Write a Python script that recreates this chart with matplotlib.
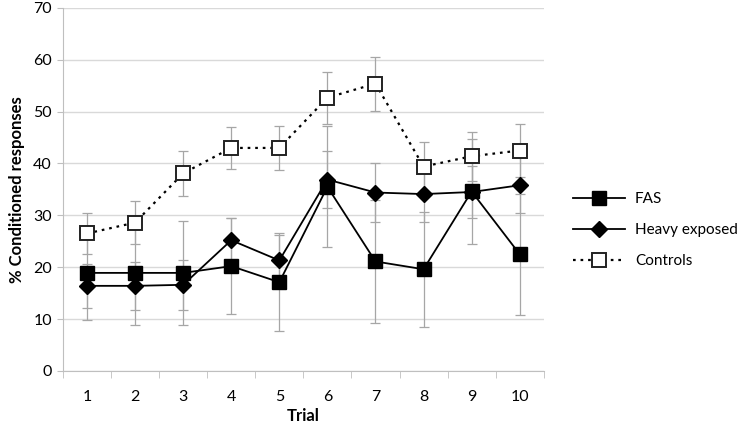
import matplotlib.pyplot as plt
import numpy as np

trials = np.arange(1, 11)

# mean % conditioned responses per trial
fas = [18.9, 18.9, 18.9, 20.2, 17.1, 35.5, 21.1, 19.6, 34.6, 22.5]
heavy = [16.4, 16.4, 16.6, 25.2, 21.3, 36.9, 34.4, 34.1, 34.5, 35.8]
controls = [26.5, 28.6, 38.1, 43.0, 43.0, 52.7, 55.4, 39.4, 41.4, 42.5]

# error bar half-widths
fas_err = [9.1, 10.0, 10.1, 9.2, 9.4, 11.7, 11.8, 11.1, 10.2, 11.7]
heavy_err = [4.3, 4.6, 4.8, 4.2, 5.0, 5.5, 5.6, 5.3, 5.1, 5.4]
controls_err = [3.9, 4.1, 4.3, 4.1, 4.2, 5.0, 5.2, 4.8, 4.7, 5.2]

plt.rcParams['font.family'] = ['Lato', 'DejaVu Sans']

fig = plt.figure(figsize=(7.5, 4.41), dpi=100)
ax = fig.add_axes([0.084, 0.159, 0.641, 0.823])

grey = '#a6a6a6'
for vals, errs in [(fas, fas_err), (heavy, heavy_err), (controls, controls_err)]:
    ax.errorbar(trials, vals, yerr=errs, fmt='none', ecolor=grey, elinewidth=0.9,
                capsize=3.5, capthick=0.9, zorder=2)

ax.plot(trials, fas, '-', color='black', lw=1.3, marker='s', markersize=10,
        markerfacecolor='black', markeredgecolor='black', label='FAS', zorder=4)
ax.plot(trials, heavy, '-', color='black', lw=1.3, marker='D', markersize=8.5,
        markerfacecolor='black', markeredgecolor='black', label='Heavy exposed', zorder=4)
ax.plot(trials, controls, color='black', lw=1.6, linestyle=(0, (1.2, 2.2)), marker='s',
        markersize=10, markerfacecolor='white', markeredgecolor='#222222',
        markeredgewidth=1.4, label='Controls', zorder=5)

ax.set_xlim(0.5, 10.5)
ax.set_ylim(0, 70)
ax.set_yticks(np.arange(0, 71, 10))
ax.set_xticks(trials)
ax.set_xticks(np.arange(0.5, 10.6, 1), minor=True)
ax.tick_params(axis='x', which='major', length=0, pad=14, labelsize=11.5)
ax.tick_params(axis='x', which='minor', length=5, color='#bfbfbf', direction='out')
ax.tick_params(axis='y', length=4, color='#bfbfbf', labelsize=11.5, pad=4)

ax.yaxis.grid(True, color='#d9d9d9', lw=1)
ax.set_axisbelow(True)
for s in ['top', 'right']:
    ax.spines[s].set_visible(False)
for s in ['left', 'bottom']:
    ax.spines[s].set_color('#bfbfbf')

ax.set_xlabel('Trial', fontsize=12, fontweight='bold', labelpad=3)
ax.set_ylabel('% Conditioned responses', fontsize=12, fontweight='bold', labelpad=6)

fig.legend(loc='center left', bbox_to_anchor=(0.764, 0.478), frameon=False,
           fontsize=11, handlelength=3.4, labelspacing=1.1, handletextpad=0.65,
           borderpad=0, borderaxespad=0)

fig.savefig('out.png', dpi=100)
